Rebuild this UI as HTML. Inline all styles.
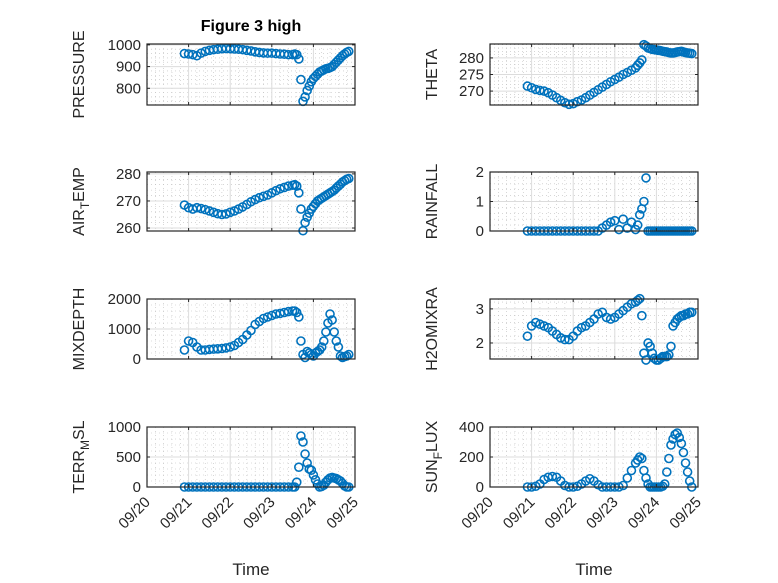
<!DOCTYPE html>
<html><head><meta charset="utf-8"><style>
html,body{margin:0;padding:0;background:#fff;}
svg{display:block;font-family:"Liberation Sans","DejaVu Sans",sans-serif;}
</style></head><body>
<svg id="fig" width="778" height="583" viewBox="0 0 778 583" xmlns="http://www.w3.org/2000/svg">
<rect width="778" height="583" fill="#fff"/>
<text x="251" y="31" text-anchor="middle" font-size="16" font-weight="bold" fill="#000">Figure 3 high</text>
</svg>
<script>
// time (day of month, September)
const timeEarly = [20.9,21.0,21.1,21.2,21.3,21.4,21.5,21.6,21.7,21.8,21.9,22.0,22.1,22.2,22.3,22.4,22.5,22.6,22.7,22.8,22.9,23.0,23.1,23.2,23.3,23.4,23.5];
const timeLate = [23.55,23.6,23.65,23.7,23.75,23.8,23.85,23.9,23.95,24.0,24.05,24.1,24.15,24.2,24.25,24.3,24.35,24.4,24.45,24.5,24.55,24.6,24.65,24.7,24.75,24.8,24.85];
const xTickLabels = ["09/20","09/21","09/22","09/23","09/24","09/25"];
const xTickDays = [20,21,22,23,24,25];

const pressure = [960,958,955,950,962,970,975,978,980,982,983,982,981,980,978,975,972,968,965,963,962,962,960,958,957,955,955,
 958,955,935,840,740,760,790,810,830,845,855,865,875,880,885,890,892,895,900,910,920,930,940,950,958,965,970];
const theta = [271.5,271,270.5,270.2,270,269.5,268.8,268,267.2,266.5,266,266.2,266.8,267.3,268,268.8,269.6,270.4,271.2,272,272.8,273.5,274.2,275,275.6,276.3,277,
 277.8,278.5,279.4,284,283.6,283,282.8,282.6,282.5,282.4,282.3,282.2,282,281.9,281.8,281.6,281.5,281.5,281.6,281.8,281.9,282,281.8,281.6,281.5,281.4,281.3];
const airTemp = [268.5,267.5,267,267.5,267.2,266.8,266.3,265.8,265.3,265,265.2,265.8,266.3,267,267.8,268.7,269.7,270.5,271.2,271.7,272.2,273,273.8,274.5,275,275.5,275.8,
 276,275.5,273,267,259,262,264,265.5,267,268,269,270,270.5,271,271.5,272,272.5,273,273.5,274,274.8,275.5,276.2,277,277.5,278,278.3];
const rainfall = [0,0,0,0,0,0,0,0,0,0,0,0,0,0,0,0,0,0,0.1,0.2,0.3,0.35,0.05,0.4,0.1,0.3,0.05,
 0.2,0.55,0.75,1.0,1.8,0,0,0,0,0,0,0,0,0,0,0,0,0,0,0,0,0,0,0,0,0,0];
const mixDepth = [300,600,550,400,300,300,320,330,340,350,370,400,450,550,650,800,950,1150,1250,1350,1400,1450,1500,1520,1550,1580,1600,
 1600,1550,1400,600,150,50,250,200,150,100,200,250,300,400,600,900,1200,1500,1300,900,600,400,100,50,80,100,150];
const h2oMix = [2.2,2.5,2.6,2.55,2.5,2.45,2.35,2.25,2.15,2.1,2.1,2.2,2.35,2.45,2.5,2.6,2.7,2.85,2.9,2.75,2.7,2.75,2.85,2.95,3.05,3.15,3.2,
 3.25,3.3,2.8,1.7,1.5,2.0,1.9,1.7,1.55,1.5,1.5,1.55,1.6,1.6,1.6,1.65,1.9,2.5,2.6,2.7,2.75,2.8,2.8,2.85,2.85,2.9,2.9];
const terrMsl = [0,0,0,0,0,0,0,0,0,0,0,0,0,0,0,0,0,0,0,0,0,0,0,0,0,0,0,
 0,80,330,850,750,550,400,300,280,200,120,50,0,10,30,80,120,150,160,150,140,120,100,60,20,0,0];
const sunFlux = [0,0,5,20,50,65,70,65,40,10,0,0,5,20,40,55,40,15,0,0,0,0,0,10,60,110,160,
 180,200,190,110,60,20,0,0,0,0,0,0,5,20,100,190,280,320,350,360,330,290,230,160,100,40,0];

const pressureTicks = [800,900,1000];
const thetaTicks = [270,275,280];
const airTempTicks = [260,270,280];
const rainTicks = [0,1,2];
const mixTicks = [0,1000,2000];
const h2oTicks = [2,3];
const terrTicks = [0,500,1000];
const sunTicks = [0,200,400];

const NS = "http://www.w3.org/2000/svg";
const svg = document.getElementById("fig");
const times = timeEarly.concat(timeLate);

function mk(tag, attrs, parent){
  const e = document.createElementNS(NS, tag);
  for (const k in attrs) e.setAttribute(k, attrs[k]);
  (parent||svg).appendChild(e);
  return e;
}

const cols = [{x0:147,x1:355,lx:84},{x0:490,x1:698,lx:437}];
const rows = [[44,105],[172,231],[299,359],[427,487]];

const panels = [
 {name:"pressure",col:0,row:0,data:pressure,ticks:pressureTicks,lim:[723,1004],minor:20,label:["PRESSURE"]},
 {name:"theta",col:1,row:0,data:theta,ticks:thetaTicks,lim:[265.8,284.2],minor:1,label:["THETA"]},
 {name:"air-temp",col:0,row:1,data:airTemp,ticks:airTempTicks,lim:[258.9,280.7],minor:2,label:["AIR","T","EMP"]},
 {name:"rainfall",col:1,row:1,data:rainfall,ticks:rainTicks,lim:[0,2],minor:0.2,label:["RAINFALL"]},
 {name:"mixdepth",col:0,row:2,data:mixDepth,ticks:mixTicks,lim:[0,2000],minor:200,label:["MIXDEPTH"]},
 {name:"h2omixra",col:1,row:2,data:h2oMix,ticks:h2oTicks,lim:[1.53,3.29],minor:0.2,label:["H2OMIXRA"]},
 {name:"terr-msl",col:0,row:3,data:terrMsl,ticks:terrTicks,lim:[0,1000],minor:100,label:["TERR","M","SL"]},
 {name:"sun-flux",col:1,row:3,data:sunFlux,ticks:sunTicks,lim:[0,400],minor:40,label:["SUN","F","LUX"]}
];

panels.forEach(p=>{
  const c = cols[p.col], r = rows[p.row];
  const x0=c.x0,x1=c.x1,y0=r[0],y1=r[1];
  const xs = d => x0 + (d-20)/5*(x1-x0);
  const ys = v => y1 - (v-p.lim[0])/(p.lim[1]-p.lim[0])*(y1-y0);
  const g = mk("g",{});
  
  
  mk("rect",{x:x0,y:y0,width:x1-x0,height:y1-y0,fill:"#fff"},g);
  for(let d=20.2; d<25; d+=0.2){
    if (Math.abs(d-Math.round(d))<0.01) continue;
    mk("line",{x1:xs(d),x2:xs(d),y1:y0,y2:y1,stroke:"#bdbdbd","stroke-width":0.6,"stroke-dasharray":"1 3"},g);
  }
  for(let v=Math.ceil(p.lim[0]/p.minor)*p.minor; v<p.lim[1]; v+=p.minor){
    if (p.ticks.some(t=>Math.abs(t-v)<p.minor*0.01)) continue;
    mk("line",{x1:x0,x2:x1,y1:ys(v),y2:ys(v),stroke:"#bdbdbd","stroke-width":0.6,"stroke-dasharray":"1 3"},g);
  }
  xTickDays.forEach(d=>{
    mk("line",{x1:xs(d),x2:xs(d),y1:y0,y2:y1,stroke:"#dcdcdc","stroke-width":1},g);
  });
  p.ticks.forEach(v=>{
    mk("line",{x1:x0,x2:x1,y1:ys(v),y2:ys(v),stroke:"#dcdcdc","stroke-width":1},g);
  });
  const dg = mk("g",{fill:"none",stroke:"#0072BD","stroke-width":1.6},g);
  
  
  p.data.forEach((v,i)=>{
    const m = mk("circle",{cx:xs(times[i]).toFixed(2),cy:ys(v).toFixed(2),r:4},dg);
    
    
  });
  mk("rect",{x:x0,y:y0,width:x1-x0,height:y1-y0,fill:"none",stroke:"#262626","stroke-width":1.2},g);
  xTickDays.forEach(d=>{
    mk("line",{x1:xs(d),x2:xs(d),y1:y1,y2:y1-3,stroke:"#262626","stroke-width":1},g);
    mk("line",{x1:xs(d),x2:xs(d),y1:y0,y2:y0+3,stroke:"#262626","stroke-width":1},g);
  });
  p.ticks.forEach(v=>{
    mk("line",{x1:x0,x2:x0+3,y1:ys(v),y2:ys(v),stroke:"#262626","stroke-width":1},g);
    mk("line",{x1:x1,x2:x1-3,y1:ys(v),y2:ys(v),stroke:"#262626","stroke-width":1},g);
    const t = mk("text",{x:x0-6,y:ys(v)+5,"text-anchor":"end","font-size":15,fill:"#262626"},g);
    
    
    t.textContent = v;
  });
  const cy = (y0+y1)/2;
  const yl = mk("text",{x:c.lx,y:cy,"text-anchor":"middle","font-size":16,fill:"#262626",transform:`rotate(-90 ${c.lx} ${cy})`},g);
  
  
  if (p.label.length===1) yl.textContent = p.label[0];
  else {
    const a = mk("tspan",{},yl); a.textContent=p.label[0];
    const b = mk("tspan",{"font-size":12,dy:5},yl); b.textContent=p.label[1];
    const cc = mk("tspan",{dy:-5},yl); cc.textContent=p.label[2];
  }
  if (p.row===3){
    xTickDays.forEach((d,i)=>{
      const tx = xs(d)+4, ty = y1+16;
      const t = mk("text",{x:tx,y:ty,"text-anchor":"end","font-size":15,fill:"#262626",transform:`rotate(-45 ${tx} ${ty})`},g);
      
      
      t.textContent = xTickLabels[i];
    });
    const xt = mk("text",{x:(x0+x1)/2,y:575,"text-anchor":"middle","font-size":17,fill:"#262626"},g);
    
    
    xt.textContent = "Time";
  }
});
</script>
</body></html>
